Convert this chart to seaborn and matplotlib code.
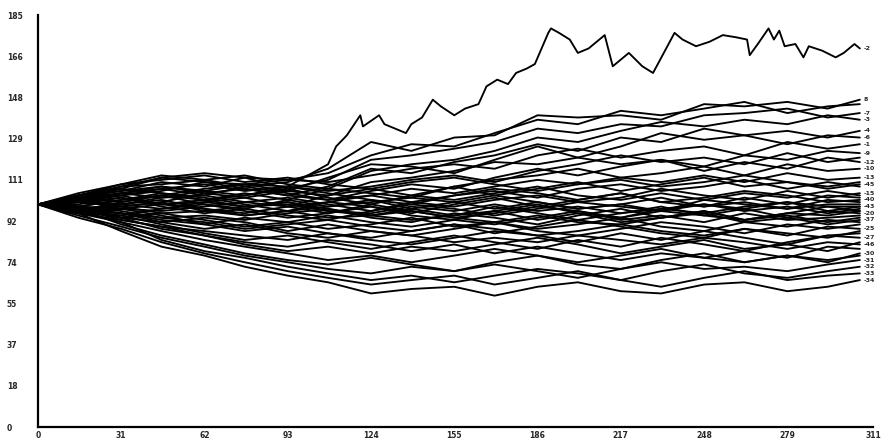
import matplotlib
matplotlib.use("Agg")
import matplotlib.pyplot as plt
import seaborn as sns
import pandas as pd

# ---------------- data ----------------
steps = [0, 15, 31, 46, 62, 77, 93, 108, 124, 139, 155, 170, 186, 201, 217, 232, 248, 263, 279, 294, 306]

top_steps = [0, 15, 31, 46, 62, 77, 93, 108, 111, 115, 120, 121, 127, 129, 137, 139, 143, 147, 150, 155,
             159, 164, 167, 171, 175, 178, 182, 185, 190, 191, 194, 198, 201, 205, 211, 214, 220, 225,
             229, 233, 237, 240, 245, 250, 255, 260, 264, 265, 268, 272, 274, 276, 278, 282, 285, 287,
             292, 297, 300, 304, 306]
top_vals = [100, 104, 108, 112, 110, 109, 108, 118, 126, 131, 140, 135, 140, 136, 132, 136, 139, 147, 144, 140,
            143, 145, 153, 156, 154, 159, 161, 163, 177, 179, 177, 174, 168, 170, 176, 162, 168, 162,
            159, 168, 177, 174, 171, 173, 176, 175, 174, 167, 172, 179, 174, 178, 171, 172, 166, 171,
            169, 166, 168, 172, 170]

s01 = [100, 105, 109, 113, 111, 108, 110, 116, 128, 124, 130, 131, 140, 139, 140, 138, 145, 144, 146, 143, 147]
s02 = [100, 103, 107, 112, 114, 112, 111, 114, 122, 127, 126, 132, 138, 136, 142, 140, 143, 146, 141, 144, 145]
s03 = [100, 104, 106, 110, 108, 112, 107, 111, 120, 122, 125, 128, 134, 132, 136, 135, 140, 141, 143, 139, 141]
s04 = [100, 102, 108, 109, 111, 113, 109, 107, 115, 118, 120, 124, 130, 128, 133, 137, 135, 138, 136, 140, 138]
s05 = [100, 101, 104, 106, 110, 107, 104, 108, 116, 114, 119, 122, 127, 124, 130, 128, 134, 131, 133, 130, 133]
s06 = [100, 103, 105, 108, 105, 103, 106, 112, 118, 117, 114, 120, 126, 121, 126, 132, 129, 131, 127, 131, 130]
s07 = [100, 99, 102, 104, 107, 109, 111, 110, 113, 116, 118, 116, 122, 125, 121, 124, 126, 122, 128, 125, 127]
s08 = [100, 102, 100, 103, 104, 101, 99, 104, 110, 112, 115, 119, 118, 121, 118, 120, 117, 122, 120, 124, 123]
s09 = [100, 104, 107, 105, 102, 104, 108, 106, 108, 111, 113, 110, 115, 118, 122, 119, 121, 118, 123, 119, 121]
s10 = [100, 101, 99, 101, 105, 107, 104, 102, 106, 109, 107, 112, 116, 113, 117, 120, 115, 119, 116, 121, 119]
s11 = [100, 97, 101, 104, 100, 98, 102, 107, 105, 103, 108, 111, 113, 116, 112, 114, 117, 113, 118, 115, 116]
s12 = [100, 103, 104, 100, 101, 103, 99, 101, 104, 107, 105, 108, 111, 109, 112, 110, 113, 110, 114, 111, 112]
s13 = [100, 99, 102, 105, 103, 100, 97, 99, 102, 100, 104, 106, 103, 107, 109, 106, 108, 111, 107, 110, 108]
s14 = [100, 102, 98, 97, 99, 101, 103, 100, 97, 101, 99, 102, 104, 101, 103, 107, 104, 102, 106, 103, 105]
s15 = [100, 98, 100, 102, 98, 95, 97, 101, 99, 96, 100, 103, 99, 102, 105, 101, 99, 103, 100, 104, 103]
s16 = [100, 101, 103, 99, 96, 98, 95, 93, 97, 100, 98, 95, 98, 101, 99, 97, 102, 100, 98, 102, 101]
s17 = [100, 97, 95, 98, 100, 97, 94, 96, 99, 95, 93, 97, 100, 96, 94, 98, 96, 99, 101, 97, 99]
s18 = [100, 99, 97, 94, 95, 93, 96, 98, 94, 92, 96, 94, 91, 95, 98, 94, 97, 93, 96, 99, 97]
s19 = [100, 102, 99, 101, 97, 99, 101, 97, 95, 98, 95, 99, 96, 93, 96, 99, 95, 98, 94, 97, 96]
s20 = [100, 98, 96, 93, 91, 94, 92, 95, 92, 90, 93, 91, 94, 97, 93, 95, 92, 96, 93, 94, 95]
s21 = [100, 100, 103, 100, 98, 96, 99, 96, 100, 97, 94, 92, 95, 92, 91, 94, 97, 93, 95, 92, 94]
s22 = [100, 97, 94, 96, 93, 90, 92, 89, 91, 94, 90, 92, 89, 91, 94, 90, 88, 92, 90, 93, 92]
s23 = [100, 99, 96, 92, 94, 92, 88, 91, 88, 86, 89, 92, 88, 86, 89, 92, 90, 87, 91, 89, 91]
s24 = [100, 96, 98, 95, 91, 88, 90, 87, 85, 88, 91, 87, 90, 93, 90, 87, 85, 89, 86, 90, 89]
s25 = [100, 98, 93, 90, 88, 86, 84, 87, 84, 82, 85, 88, 86, 83, 87, 84, 88, 85, 82, 86, 87]
s26 = [100, 97, 95, 91, 87, 84, 86, 83, 80, 83, 86, 83, 80, 84, 81, 85, 82, 79, 83, 86, 85]
s27 = [100, 99, 94, 89, 86, 82, 79, 81, 78, 81, 79, 82, 85, 82, 78, 81, 84, 80, 82, 79, 83]
s28 = [100, 96, 92, 88, 84, 81, 78, 75, 77, 74, 77, 80, 77, 74, 77, 80, 76, 79, 76, 81, 80]
s29 = [100, 98, 91, 86, 82, 78, 75, 73, 76, 73, 70, 74, 77, 73, 71, 75, 78, 74, 77, 74, 78]
s30 = [100, 95, 90, 85, 81, 77, 74, 71, 69, 72, 70, 73, 70, 67, 71, 74, 71, 72, 70, 73, 75]
s31 = [100, 97, 92, 84, 79, 76, 72, 69, 66, 68, 65, 68, 71, 69, 66, 70, 73, 69, 67, 70, 72]
s32 = [100, 94, 89, 83, 78, 74, 70, 67, 64, 66, 68, 64, 67, 70, 66, 63, 67, 70, 66, 68, 69]
s33 = [100, 96, 88, 81, 77, 72, 68, 65, 60, 62, 63, 59, 63, 65, 61, 60, 64, 65, 61, 63, 66]
s34 = [100, 101, 100, 98, 101, 99, 100, 97, 96, 99, 97, 100, 97, 99, 96, 98, 100, 97, 99, 96, 98]
s35 = [100, 103, 101, 104, 102, 105, 102, 99, 101, 103, 101, 98, 101, 98, 100, 103, 99, 101, 98, 100, 100]
s36 = [100, 98, 99, 96, 97, 95, 97, 94, 95, 93, 95, 97, 93, 96, 92, 94, 96, 92, 94, 91, 93]
s37 = [100, 102, 105, 103, 106, 104, 107, 103, 100, 104, 102, 105, 108, 104, 102, 105, 102, 105, 103, 106, 104]
s38 = [100, 104, 109, 111, 113, 110, 112, 109, 107, 110, 112, 109, 106, 109, 111, 108, 110, 113, 110, 108, 110]
s39 = [100, 101, 105, 107, 104, 108, 105, 102, 104, 101, 104, 107, 105, 102, 105, 101, 103, 106, 104, 101, 102]
s40 = [100, 99, 98, 100, 102, 99, 101, 98, 95, 97, 94, 96, 99, 97, 94, 97, 95, 93, 96, 95, 97]
s41 = [100, 97, 96, 94, 92, 89, 91, 93, 90, 88, 91, 89, 86, 88, 91, 88, 86, 89, 87, 85, 88]
s42 = [100, 102, 104, 107, 109, 106, 108, 105, 102, 98, 101, 104, 101, 98, 100, 97, 100, 98, 101, 99, 99]
s43 = [100, 96, 93, 90, 86, 83, 81, 84, 82, 79, 82, 78, 81, 78, 75, 78, 76, 74, 77, 75, 77]
s44 = [100, 103, 106, 108, 106, 109, 106, 104, 107, 104, 108, 104, 107, 110, 106, 109, 112, 108, 110, 107, 109]
s45 = [100, 98, 94, 92, 89, 91, 87, 85, 88, 86, 83, 85, 83, 86, 84, 82, 85, 83, 80, 83, 82]

bundle = [s01, s02, s03, s04, s05, s06, s07, s08, s09, s10, s11, s12, s13, s14, s15, s16, s17, s18, s19,
          s20, s21, s22, s23, s24, s25, s26, s27, s28, s29, s30, s31, s32, s33, s34, s35, s36, s37,
          s38, s39, s40, s41, s42, s43, s44, s45]
end_labels = ["8", "-5", "-7", "-3", "-4", "-6", "-1", "-9", "-11", "-12", "-10", "-13", "-14", "-15",
              "-16", "-17", "-18", "-19", "-20", "-21", "-22", "-23", "-24", "-25", "-26", "-27", "-28",
              "-29", "-30", "-31", "-32", "-33", "-34", "-35", "-36", "-37", "-38", "-39", "-40", "-41",
              "-42", "-43", "-44", "-45", "-46"]
top_label = "-2"

x_ticks = [0, 31, 62, 93, 124, 155, 186, 217, 248, 279, 311]
x_tick_labels = ["0", "31", "62", "93", "124", "155", "186", "217", "248", "279", "311"]
y_ticks = [0, 18.5, 37, 55.5, 74, 92.5, 111, 129.5, 148, 166.5, 185]
y_tick_labels = ["0", "18", "37", "55", "74", "92", "111", "129", "148", "166", "185"]

# ---------------- build long table ----------------
rows = []
for name, vals in zip(end_labels, bundle):
    for s, v in zip(steps, vals):
        rows.append((name, s, v))
for s, v in zip(top_steps, top_vals):
    rows.append((top_label, s, v))
df = pd.DataFrame(rows, columns=["series", "step", "value"])

# ---------------- plot ----------------
sns.set_style("white")
plt.rcParams["font.family"] = ["DejaVu Sans"]

fig = plt.figure(figsize=(8.83, 4.43), dpi=100)
ax = fig.add_axes([0.043, 0.036, 0.946, 0.930])

sns.lineplot(data=df, x="step", y="value", units="series", estimator=None,
             color="black", linewidth=1.35, ax=ax, sort=False)

ax.set_xlim(0, 311)
ax.set_ylim(0, 185)
ax.set_xticks(x_ticks)
ax.set_xticklabels(x_tick_labels)
ax.set_yticks(y_ticks)
ax.set_yticklabels(y_tick_labels)
ax.set_xlabel("")
ax.set_ylabel("")
for side in ["top", "right"]:
    ax.spines[side].set_visible(False)
for side in ["left", "bottom"]:
    ax.spines[side].set_color("black")
    ax.spines[side].set_linewidth(1.6)
ax.tick_params(axis="x", which="major", length=2.5, width=1.2, color="black",
               labelsize=5.5, pad=0.5)
ax.tick_params(axis="y", which="major", length=3, width=1.2, color="black",
               labelsize=5.5, pad=19.5)
for lab in ax.get_yticklabels():
    lab.set_horizontalalignment("left")
for lab in ax.get_xticklabels() + ax.get_yticklabels():
    lab.set_fontweight("bold")

# end-of-line labels (stacked like the reference, skipping ones that would sit on top of each other)
last = df.sort_values("step").groupby("series").tail(1).sort_values("value", ascending=False)
prev = None
for _, r in last.iterrows():
    if prev is not None and prev - r["value"] < 2.6:
        continue
    ax.text(r["step"] + 1.5, r["value"], r["series"], fontsize=4.5, fontweight="bold",
            va="center", ha="left", clip_on=False)
    prev = r["value"]

fig.savefig("out.png", dpi=100)
